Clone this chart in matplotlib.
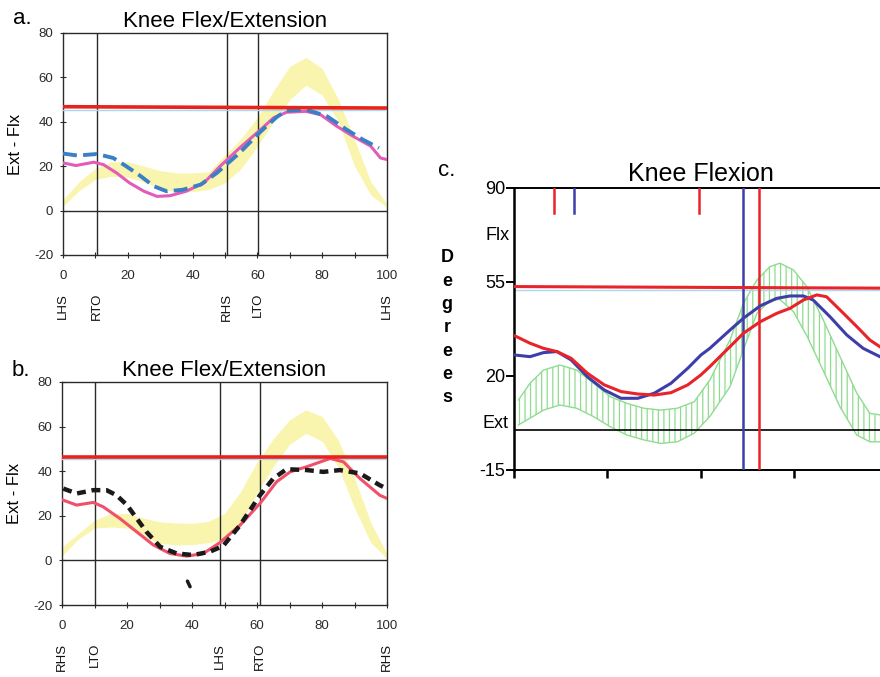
import matplotlib
matplotlib.use("Agg")
import matplotlib.pyplot as plt
from matplotlib.ticker import MultipleLocator
import matplotlib.transforms as mtransforms

plt.rcParams['font.family'] = ['Liberation Sans', 'DejaVu Sans']
plt.rcParams['hatch.linewidth'] = 0.9
plt.rcParams['axes.unicode_minus'] = False

# ---------------- data: panel a ----------------
band_a_x = [0, 5, 10, 15, 20, 25, 30, 35, 40, 45, 50, 55, 60, 65, 70, 75, 80, 85, 90, 95, 100]
band_a_lo = [2, 9, 14, 15.5, 15, 13, 10, 8.5, 8.5, 9.5, 12.5, 19, 29, 40, 50, 56.5, 52, 40, 20, 7, 1.5]
band_a_hi = [5, 13, 19, 22, 22, 20, 18, 17, 17, 17.5, 25, 32.5, 42, 54, 65, 69, 64, 50, 32, 13, 3]

pink_a_x = [0, 4, 9.5, 12.5, 16.5, 20.5, 25, 29, 33, 38, 43.5, 48.5, 54.5, 61, 65, 69, 75, 79.5, 84.5,
            89.5, 95, 98, 100]
pink_a_y = [21.5, 20.3, 21.8, 20.7, 17, 12.5, 8.7, 6.4, 6.7, 8.7, 12.5, 20, 28.2, 36.5, 41.8, 44.3, 44.7,
            43.2, 38, 33.5, 29, 23.7, 23]

blue_a_x = [0, 4.5, 10.5, 15.5, 19.5, 24, 28, 32, 37, 42.5, 47.5, 54.5, 61, 66, 69, 75, 81.5, 87.5, 92.5, 97.5]
blue_a_y = [25.7, 24.8, 25.5, 23.7, 20, 15.5, 11, 8.7, 9.4, 11.7, 17, 26, 35.6, 42.2, 45, 45.5, 42.5, 36.5,
            32, 28.2]

events_a = [0, 10.5, 50.5, 60.3, 100]
event_labels_a = ["LHS", "RTO", "RHS", "LTO", "LHS"]
ref_a = [46.8, 46.2]
ref_blue_a = 45.3

# ---------------- data: panel b ----------------
band_b_x = [0, 5, 10, 15, 20, 25, 30, 35, 40, 45, 50, 55, 60, 65, 70, 75, 80, 85, 90, 95, 100]
band_b_lo = [2, 9.5, 14.5, 15, 14.5, 11, 7.6, 7, 7, 8, 9.5, 17, 30, 42, 52, 57, 53.5, 42, 23.5, 8, 0.8]
band_b_hi = [6, 12, 18, 21, 21, 19, 17.3, 16.8, 16.6, 17.5, 21, 31, 44, 54.5, 63, 67.5, 64.5, 54, 37, 17, 3]

black_b_x = [0.4, 4.5, 9.6, 13.7, 16.8, 20, 23, 26, 30.2, 35.3, 40.4, 45.5, 49.6, 54.8, 60.9, 65, 69.1,
             75.3, 80.4, 85.5, 91.7, 97.8, 99.5]
black_b_y = [32.2, 30, 31.5, 31.5, 29.2, 24.8, 18.8, 12.8, 6.1, 3.1, 2.4, 3.9, 6.5, 15.8, 29.2, 36.7, 40.9,
             40.5, 39.7, 40.5, 39, 33.7, 32.5]

red_b_x = [0.4, 4.5, 9.6, 12.7, 17.8, 23, 28.1, 33.2, 38.4, 43.5, 48.6, 54.8, 60.9, 66, 70.2, 75.3, 82.5,
           86.6, 91.7, 97.8, 100]
red_b_y = [27, 24.8, 26, 24, 18.8, 12.8, 6.9, 3.1, 1.9, 3.1, 8, 15.8, 25.5, 35.2, 39.7, 42, 45.7, 44.2,
           36.7, 29.2, 27.8]

stray_b_x = [38.6, 39.4]
stray_b_y = [-9.3, -11.8]

events_b = [0, 10, 48.7, 60.8, 100]
event_labels_b = ["RHS", "LTO", "LHS", "RTO", "RHS"]
ref_b = [46.2, 46.2]
ref_blue_b = 45.3

# ---------------- data: panel c ----------------
blue_c_x = [0.3, 4.3, 7.9, 11.5, 15.3, 19.7, 24.2, 28.7, 33.2, 37.6, 42.1, 46.6, 50.1, 52.5, 57.9, 61.5,
            66, 70.4, 74, 77.6, 80.2, 84.7, 89.2, 93.6, 98.1]
blue_c_y = [27.8, 27.2, 28.7, 29.1, 26, 19.7, 14.8, 11.7, 11.7, 13.6, 17.3, 22.9, 27.8, 30.3, 37.1, 41.5,
            46.1, 48.9, 49.8, 49.8, 48.3, 42.1, 35.3, 30.3, 27.2]

red_c_x = [0.3, 4.3, 7.9, 11.5, 15.3, 19.7, 24.2, 28.7, 33.2, 37.6, 42.1, 46.6, 50.1, 52.5, 57.9, 61.5,
           66, 70.4, 74, 77.6, 81.2, 83.8, 87.4, 91.9, 95.4, 98.1]
red_c_y = [34.9, 32.2, 30.3, 29.1, 26.6, 21, 16.7, 14.2, 13.3, 12.9, 13.8, 16.7, 20.4, 23.5, 30.9, 35.9,
           40.2, 43.3, 45.2, 48.3, 50.2, 49.5, 44.6, 38.4, 33.4, 30.9]

band_c_x = [1.2, 4.3, 7.9, 12.3, 16.8, 21.3, 25.8, 30.3, 34.8, 39.3, 43.8, 48.3, 52.5, 57.9, 61.5, 65.1,
            68.6, 71.3, 74.9, 78.5, 82.9, 87.4, 91.9, 95.4, 98.1]
band_c_hi = [11.1, 17.3, 22.2, 24.1, 22.2, 17.3, 12.3, 9.8, 8, 7.3, 8, 10.4, 18.5, 33.4, 47, 55.7, 60.7,
             62, 59.5, 53.3, 40.9, 27.2, 13.6, 6.1, 5.5]
band_c_lo = [1.8, 4.3, 7.3, 9.2, 8, 4.9, 1.1, -2, -3.8, -5.1, -4.5, -1.3, 4.9, 16, 29.7, 43.3, 48, 48.5,
             44, 35, 22, 8.5, -2, -4.5, -4.5]

toe_off_c = {"blue": 61.5, "red": 65.7}
top_marks_c = [(10.8, "red"), (16.2, "blue"), (49.7, "red")]
ref_c = [53.3, 52.7]
ref_blue_c = 52.0
yticks_c = [90, 55, 20, -15]
xticks_c = [0, 25, 50, 75, 100]

# ---------------- colours ----------------
YELLOW = "#f9f5ae"
PINK = "#e25cb8"
BLUE_DASH = "#3a80c4"
RED_B = "#f0506a"
REF_RED = "#e8231c"
REF_BLUE = "#a9d9f2"
FRAME = "#2a2a2a"
C_BLUE = "#3e3eaa"
C_RED = "#e8232a"
C_GREEN = "#8fdc8f"

W, H = 880, 677
fig = plt.figure(figsize=(W / 100, H / 100), dpi=100)
fig.patch.set_facecolor("white")


def add_px_axes(left, top, right, bottom):
    return fig.add_axes([left / W, 1 - bottom / H, (right - left) / W, (bottom - top) / H])


def gait_panel(ax, band_x, lo, hi, events, labels, ref, ref_blue):
    ax.set_xlim(0, 100)
    ax.set_ylim(-20, 80)
    ax.fill_between(band_x, lo, hi, color=YELLOW, lw=0, zorder=1)
    for e in events[1:-1]:
        ax.axvline(e, color=FRAME, lw=1.0, zorder=2)
    ax.axhline(0, color=FRAME, lw=1.0, zorder=2)
    ax.plot([0, 100], [ref_blue, ref_blue], color=REF_BLUE, lw=1.0, zorder=3)
    ax.plot([0, 100], ref, color=REF_RED, lw=2.6, zorder=5)
    for sp in ax.spines.values():
        sp.set_color(FRAME)
        sp.set_linewidth(1.0)
    ax.set_yticks([-20, 0, 20, 40, 60, 80])
    ax.set_xticks([0, 20, 40, 60, 80, 100])
    ax.xaxis.set_minor_locator(MultipleLocator(10))
    ax.tick_params(axis="both", which="both", direction="inout", length=4, width=0.8,
                   colors=FRAME, labelsize=9.5)
    ax.tick_params(axis="y", pad=5)
    ax.tick_params(axis="x", pad=9)
    ax.set_ylabel("Ext - Flx", fontsize=12, labelpad=8)
    trans = mtransforms.blended_transform_factory(ax.transData, ax.transAxes)
    for e, lab in zip(events, labels):
        ax.text(e, -0.17, lab, rotation=90, ha="center", va="top", fontsize=9.5,
                transform=trans, color="#111111")
    ax.text(0.5, 1.05, "Knee Flex/Extension", ha="center", va="center", fontsize=16,
            transform=ax.transAxes)


# ---------------- panel a ----------------
ax_a = add_px_axes(63, 33, 387, 255)
gait_panel(ax_a, band_a_x, band_a_lo, band_a_hi, events_a, event_labels_a, ref_a, ref_blue_a)
ax_a.plot(pink_a_x, pink_a_y, color=PINK, lw=2.2, zorder=4, solid_joinstyle="round")
ax_a.plot(blue_a_x, blue_a_y, color=BLUE_DASH, lw=2.8, ls=(0, (3.6, 1.6)), zorder=4)
fig.text(22 / W, 1 - 18 / H, "a.", fontsize=16, ha="center", va="center")

# ---------------- panel b ----------------
ax_b = add_px_axes(62, 382, 387, 605)
gait_panel(ax_b, band_b_x, band_b_lo, band_b_hi, events_b, event_labels_b, ref_b, ref_blue_b)
ax_b.plot(red_b_x, red_b_y, color=RED_B, lw=2.2, zorder=4, solid_joinstyle="round")
ax_b.plot(black_b_x, black_b_y, color="#1a1a1a", lw=3.2, ls=(0, (2.0, 1.3)), zorder=4)
ax_b.plot(stray_b_x, stray_b_y, color="#1a1a1a", lw=2.5, zorder=4, solid_capstyle="round")
fig.text(21 / W, 1 - 371 / H, "b.", fontsize=16, ha="center", va="center")

# ---------------- panel c ----------------
ax_c = add_px_axes(514, 188, 887, 470)
ax_c.set_xlim(0, 100)
ax_c.set_ylim(-15, 90)
ax_c.fill_between(band_c_x, band_c_lo, band_c_hi, facecolor="none", edgecolor=C_GREEN,
                  hatch="|||", lw=0, zorder=1)
ax_c.plot(band_c_x, band_c_hi, color=C_GREEN, lw=1.0, zorder=1)
ax_c.plot(band_c_x, band_c_lo, color=C_GREEN, lw=1.0, zorder=1)
ax_c.axhline(0, color="black", lw=1.2, zorder=2)
ax_c.plot([0, 100], [ref_blue_c, ref_blue_c], color=REF_BLUE, lw=1.0, zorder=2)
ax_c.plot([0, 100], ref_c, color=C_RED, lw=2.2, zorder=5)
ax_c.axvline(toe_off_c["blue"], color=C_BLUE, lw=1.8, zorder=3)
ax_c.axvline(toe_off_c["red"], color=C_RED, lw=1.8, zorder=3)
for xm, col in top_marks_c:
    ax_c.plot([xm, xm], [80.7, 90], color=C_BLUE if col == "blue" else C_RED, lw=1.8, zorder=3)
ax_c.plot(blue_c_x, blue_c_y, color=C_BLUE, lw=2.2, zorder=4, solid_joinstyle="round")
ax_c.plot(red_c_x, red_c_y, color=C_RED, lw=2.2, zorder=4, solid_joinstyle="round")

ax_c.spines["right"].set_visible(False)
ax_c.spines["left"].set_linewidth(1.8)
ax_c.spines["top"].set_linewidth(1.4)
ax_c.spines["bottom"].set_linewidth(1.4)
ax_c.set_yticks(yticks_c)
ax_c.set_yticklabels([str(v) for v in yticks_c])
ax_c.set_xticks(xticks_c)
ax_c.set_xticklabels([])
ax_c.tick_params(axis="y", direction="out", length=6, width=1.4, pad=0.5, labelsize=13)
ax_c.tick_params(axis="x", direction="out", length=6, width=1.8)
ax_c.text(-0.012, 72.5, "Flx", ha="right", va="center", fontsize=13,
          transform=mtransforms.blended_transform_factory(ax_c.transAxes, ax_c.transData))
ax_c.text(-0.015, 2.5, "Ext", ha="right", va="center", fontsize=13,
          transform=mtransforms.blended_transform_factory(ax_c.transAxes, ax_c.transData))
ax_c.text(0.5, 1.05, "Knee Flexion", ha="center", va="center", fontsize=18,
          transform=ax_c.transAxes)

for i, ch in enumerate("Degrees"):
    fig.text(447 / W, 1 - (258 + i * 23.3) / H, ch, fontsize=13, fontweight="bold",
             ha="center", va="center")
fig.text(447 / W, 1 - 171 / H, "c.", fontsize=16, ha="center", va="center")

fig.savefig("out.png", dpi=100)
